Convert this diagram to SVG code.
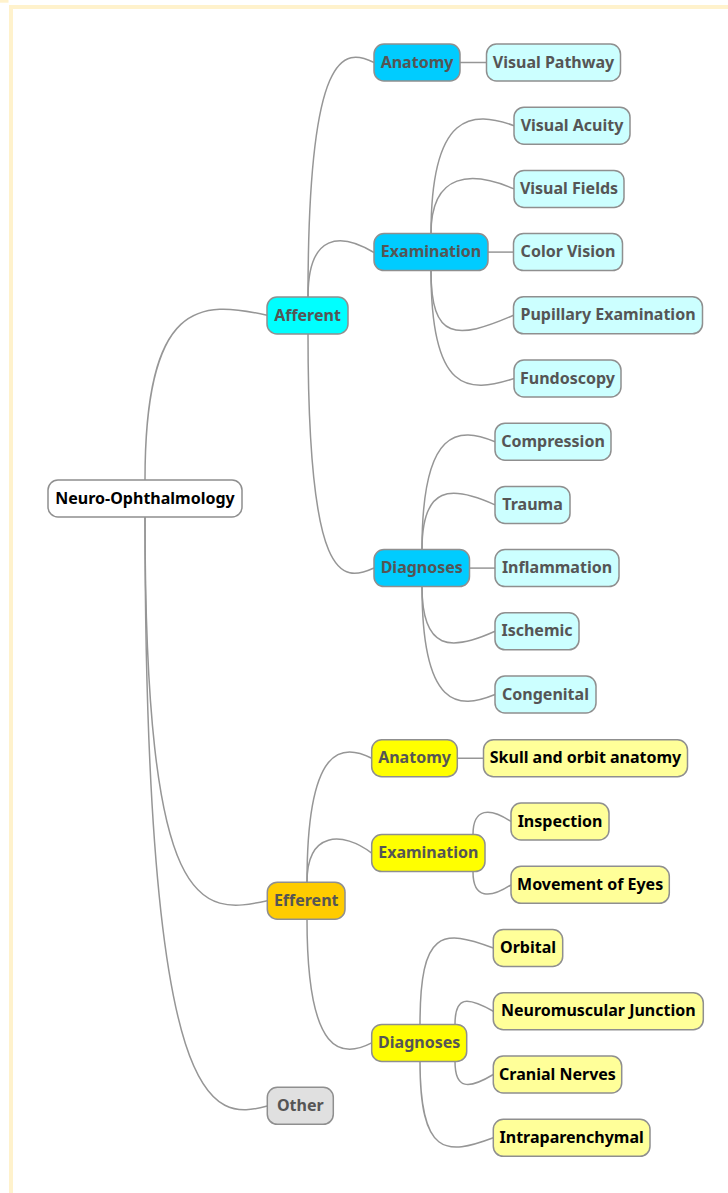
<svg xmlns="http://www.w3.org/2000/svg" width="728" height="1193" viewBox="0 0 728 1193">
<style>
.n rect{stroke:#8f8f8f;stroke-width:1.5}
.n text{font-family:"Noto Sans","Open Sans",sans-serif;font-weight:bold;font-size:16px;text-anchor:middle;fill:#555555}
.dk text{fill:#000000}
.root rect{fill:#ffffff}
.aff rect{fill:#00ffff}
.blu rect{fill:#00ccff}
.lc rect{fill:#ccffff}
.eff rect{fill:#ffcc00}
.yel rect{fill:#ffff00}
.ly rect{fill:#ffff99}
.oth rect{fill:#e0e0e0}
#edges path{fill:none;stroke:#969696;stroke-width:1.5}
</style>
<rect x="0" y="0" width="8.5" height="2.7" fill="#fff2cc"/>
<rect x="11" y="7" width="800" height="1300" fill="none" stroke="#fff2cc" stroke-width="4"/>
<g id="edges">
<path d="M145,480 C145,300 200,300 267,315.3"/>
<path d="M145,517.3 C145,915.7 200,915.7 267.3,900.7"/>
<path d="M145,517.3 C145,1121 212,1121 267.3,1106"/>
<path d="M308,297 C308,47.5 344,47.5 374,62.5"/>
<path d="M308,297 C308,232.5 341,232.5 374,252.5"/>
<path d="M308,334 C308,583 341,583 374,568"/>
<path d="M460,62.5 L486.5,62.5"/>
<path d="M431,234 C431,110.7 472.5,110.7 514,125.7"/>
<path d="M431,234 C431,171 472.5,171 514,188.9"/>
<path d="M488,252.1 L513.5,252.1"/>
<path d="M431,271 C431,340.3 456,340.3 513.5,315.3"/>
<path d="M431,271 C431,393.5 468,393.5 514,378.5"/>
<path d="M422,549.6 C422,426.7 458.5,426.7 495,441.7"/>
<path d="M422,549.6 C422,484.9 451,484.9 495,504.9"/>
<path d="M469.5,568.1 L495,568.1"/>
<path d="M422,586.6 C422,651.3 451,651.3 495,631.3"/>
<path d="M422,586.6 C422,709.5 458.5,709.5 495,694.5"/>
<path d="M307,882.2 C307,743.25 342.6,743.25 371.7,758.25"/>
<path d="M307,882.2 C307,831 342.6,831 371.7,853.1"/>
<path d="M307,919 C307,1057.9 342.6,1057.9 371.7,1042.9"/>
<path d="M457.3,758.25 L483.5,758.25"/>
<path d="M473,834.6 C473,807.5 490,807.5 511,821.5"/>
<path d="M473,871.9 C473,898.8 490,898.8 511,884.8"/>
<path d="M420,1024.4 C420,929 442,929 493.3,948"/>
<path d="M455,1024.4 C455,996.25 466.5,996.25 493.3,1011.25"/>
<path d="M455,1061.4 C455,1089.5 468.4,1089.5 493.3,1074.5"/>
<path d="M420,1061.4 C420,1155.8 445.7,1155.8 493.3,1137.8"/>
</g>
<g id="root" class="n root dk"><rect x="48" y="480" width="194" height="37" rx="10"/><text x="145" y="503.5">Neuro-Ophthalmology</text></g>
<g id="afferent" class="n aff"><rect x="267" y="297" width="81" height="37" rx="10"/><text x="307.5" y="320.5">Afferent</text></g>
<g id="a-anatomy" class="n blu"><rect x="374" y="44" width="86" height="37" rx="10"/><text x="417" y="67.5">Anatomy</text></g>
<g id="visual-pathway" class="n lc"><rect x="486.5" y="44" width="134" height="37" rx="10"/><text x="553.5" y="67.5">Visual Pathway</text></g>
<g id="a-examination" class="n blu"><rect x="374" y="233.6" width="114" height="37" rx="10"/><text x="431" y="257.1">Examination</text></g>
<g id="visual-acuity" class="n lc"><rect x="514" y="107.2" width="116" height="37" rx="10"/><text x="572" y="130.7">Visual Acuity</text></g>
<g id="visual-fields" class="n lc"><rect x="514" y="170.4" width="110" height="37" rx="10"/><text x="569" y="193.9">Visual Fields</text></g>
<g id="color-vision" class="n lc"><rect x="513.5" y="233.6" width="109" height="37" rx="10"/><text x="568" y="257.1">Color Vision</text></g>
<g id="pupillary" class="n lc"><rect x="513.5" y="296.8" width="189" height="37" rx="10"/><text x="608" y="320.3">Pupillary Examination</text></g>
<g id="fundoscopy" class="n lc"><rect x="514" y="360" width="107" height="37" rx="10"/><text x="567.5" y="383.5">Fundoscopy</text></g>
<g id="a-diagnoses" class="n blu"><rect x="374" y="549.6" width="95.5" height="37" rx="10"/><text x="421.75" y="573.1">Diagnoses</text></g>
<g id="compression" class="n lc"><rect x="495" y="423.2" width="116" height="37" rx="10"/><text x="553" y="446.7">Compression</text></g>
<g id="trauma" class="n lc"><rect x="495" y="486.4" width="75" height="37" rx="10"/><text x="532.5" y="509.9">Trauma</text></g>
<g id="inflammation" class="n lc"><rect x="495" y="549.6" width="124" height="37" rx="10"/><text x="557" y="573.1">Inflammation</text></g>
<g id="ischemic" class="n lc"><rect x="495" y="612.8" width="84" height="37" rx="10"/><text x="537" y="636.3">Ischemic</text></g>
<g id="congenital" class="n lc"><rect x="495" y="676" width="101" height="37" rx="10"/><text x="545.5" y="699.5">Congenital</text></g>
<g id="efferent" class="n eff"><rect x="267.3" y="882.2" width="77.7" height="37" rx="10"/><text x="306.2" y="905.7">Efferent</text></g>
<g id="e-anatomy" class="n yel"><rect x="371.7" y="739.75" width="85.6" height="37" rx="10"/><text x="414.5" y="763.25">Anatomy</text></g>
<g id="skull" class="n ly dk"><rect x="483.5" y="739.75" width="204" height="37" rx="10"/><text x="585.5" y="763.25">Skull and orbit anatomy</text></g>
<g id="e-examination" class="n yel"><rect x="371.7" y="834.6" width="113.3" height="37" rx="10"/><text x="428.35" y="858.1">Examination</text></g>
<g id="inspection" class="n ly dk"><rect x="511" y="803" width="98" height="37" rx="10"/><text x="560" y="826.5">Inspection</text></g>
<g id="movement" class="n ly dk"><rect x="511" y="866.3" width="158.3" height="37" rx="10"/><text x="590.15" y="889.8">Movement of Eyes</text></g>
<g id="e-diagnoses" class="n yel"><rect x="371.7" y="1024.4" width="95" height="37" rx="10"/><text x="419.2" y="1047.9">Diagnoses</text></g>
<g id="orbital" class="n ly dk"><rect x="493.3" y="929.5" width="69.4" height="37" rx="10"/><text x="528" y="953">Orbital</text></g>
<g id="neuromuscular" class="n ly dk"><rect x="493.3" y="992.75" width="210" height="37" rx="10"/><text x="598.3" y="1016.25">Neuromuscular Junction</text></g>
<g id="cranial" class="n ly dk"><rect x="493.3" y="1056" width="128.4" height="37" rx="10"/><text x="557.5" y="1079.5">Cranial Nerves</text></g>
<g id="intraparenchymal" class="n ly dk"><rect x="493.3" y="1119.3" width="156.7" height="37" rx="10"/><text x="571.65" y="1142.8">Intraparenchymal</text></g>
<g id="other" class="n oth"><rect x="267.3" y="1087.3" width="66" height="37" rx="10"/><text x="300.3" y="1110.8">Other</text></g>
</svg>
